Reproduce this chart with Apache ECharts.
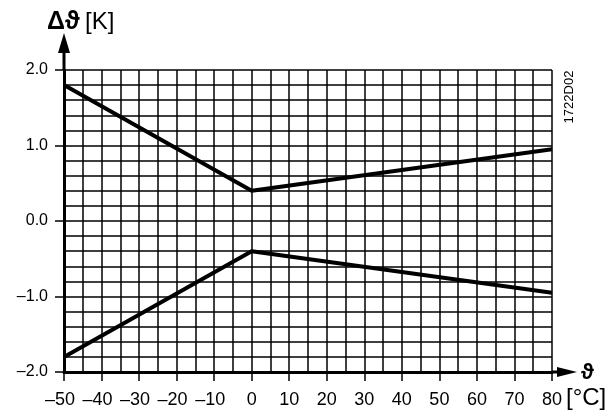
<!DOCTYPE html>
<html>
<head>
<meta charset="UTF-8">
<title>Δϑ</title>
<script src="https://cdn.jsdelivr.net/npm/echarts@6/dist/echarts.min.js"></script>
<style>
  body { margin: 0; background: #fff; }
  #root { width: 608px; height: 412px; }
</style>
</head>
<body>
<div id="root"></div>
<script>
// temperature breakpoints [°C] and allowed deviation [K]
var temps = [-50, 0, 80];
var upper = [1.8, 0.4, 0.95];
var lower = [-1.8, -0.4, -0.95];

var xTicks = { min: -50, max: 80, step: 10 };
var yTicks = { min: -2, max: 2, step: 1 };

function pairs(xs, ys) {
    return xs.map(function (x, i) { return [x, ys[i]]; });
}
function dash(s) { return s.replace('-', '\u2013'); }

var font = '"Liberation Sans", Arial, sans-serif';
var gridLine = { color: '#000', width: 1.5 };

// arrow with a short stem, tip at the top of the path
var yArrow = 'path://M6,0 L12,20 L7.5,20 L7.5,37 L4.5,37 L4.5,20 L0,20 Z';
var xArrow = 'path://M5,0 L10,20 L6.5,20 L6.5,25 L3.5,25 L3.5,20 L0,20 Z';

var chart = echarts.init(document.getElementById('root'));

chart.setOption({
    animation: false,
    backgroundColor: '#fff',
    grid: { left: 64, right: 56, top: 70, bottom: 40 },
    xAxis: {
        type: 'value',
        min: xTicks.min, max: xTicks.max, interval: xTicks.step,
        axisLine: {
            onZero: false,
            lineStyle: { color: '#000', width: 3 },
            symbol: ['none', xArrow],
            symbolSize: [10, 25],
            symbolOffset: [0, 12.5]
        },
        axisTick: { show: true, length: 9, lineStyle: { color: '#000', width: 1.5 } },
        axisLabel: {
            margin: 19, color: '#000', fontSize: 18, fontFamily: font,
            // digits sit on the tick, the minus hangs to the left
            formatter: function (v) {
                return v < 0 ? '{neg|' + dash(String(v)) + '}' : String(v);
            },
            rich: {
                neg: { fontSize: 18, fontFamily: font, color: '#000', padding: [0, 8, 0, 0] }
            }
        },
        splitLine: { show: true, lineStyle: gridLine },
        minorTick: { show: false, splitNumber: 2 },
        minorSplitLine: { show: true, lineStyle: gridLine }
    },
    yAxis: {
        type: 'value',
        min: yTicks.min, max: yTicks.max, interval: yTicks.step,
        axisLine: {
            show: true,
            onZero: false,
            lineStyle: { color: '#000', width: 3 },
            symbol: ['none', yArrow],
            symbolSize: [12, 37],
            symbolOffset: [0, 18.5]
        },
        axisTick: { show: true, length: 9, lineStyle: { color: '#000', width: 1.5 } },
        axisLabel: {
            margin: 16, color: '#000', fontSize: 16, fontFamily: font,
            formatter: function (v) { return dash(v.toFixed(1)); }
        },
        splitLine: { show: true, lineStyle: gridLine },
        minorTick: { show: false, splitNumber: 5 },
        minorSplitLine: { show: true, lineStyle: gridLine }
    },
    series: [{
        type: 'line',
        data: pairs(temps, upper),
        symbol: 'none',
        lineStyle: { color: '#000', width: 4 },
        z: 5
    }, {
        type: 'line',
        data: pairs(temps, lower),
        symbol: 'none',
        lineStyle: { color: '#000', width: 4 },
        z: 5
    }],
    graphic: [{
        type: 'text', left: 47, top: 10,
        style: { text: 'Δϑ', font: 'bold 25px ' + font, fill: '#000' }
    }, {
        type: 'text', left: 85, top: 10,
        style: { text: '[K]', font: '24px ' + font, fill: '#000' }
    }, {
        type: 'text', left: 581, top: 362,
        style: { text: 'ϑ', font: 'bold 22px ' + font, fill: '#000' }
    }, {
        type: 'text', left: 566, top: 386,
        style: { text: '[°C]', font: '24px ' + font, fill: '#000' }
    }, {
        type: 'text',
        x: 569, y: 97, rotation: Math.PI / 2,
        style: { text: '1722D02', font: '13px ' + font, fill: '#000', align: 'center', verticalAlign: 'middle' }
    }]
});
</script>
</body>
</html>
